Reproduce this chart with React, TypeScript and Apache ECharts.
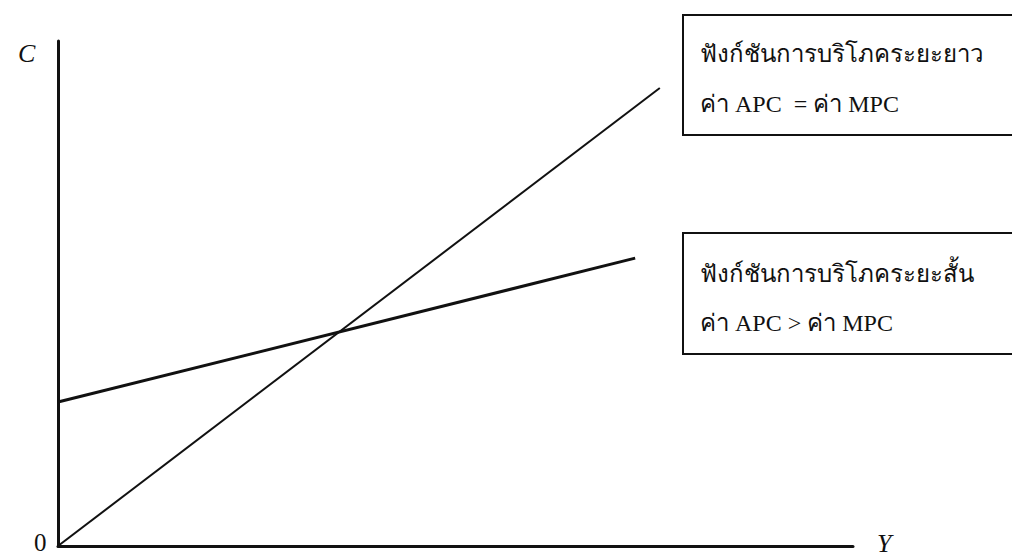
import React, { useEffect, useRef } from "react";
import * as echarts from "echarts";

const longRun: [number, number][] = [
  [0, 0],
  [75.7, 90.7],
];
const shortRun: [number, number][] = [
  [0, 28.5],
  [72.6, 57.0],
];
const longRunText = ["ฟังก์ชันการบริโภคระยะยาว", "ค่า APC  = ค่า MPC"];
const shortRunText = ["ฟังก์ชันการบริโภคระยะสั้น", "ค่า APC > ค่า MPC"];
const axisNames = { x: "Y", y: "C", origin: "0" };

const FONT = "'Liberation Serif', 'Times New Roman', serif";

export default function App() {
  const ref = useRef<HTMLDivElement>(null);
  useEffect(() => {
    if (!ref.current) return;
    const chart = echarts.init(ref.current, null, { renderer: "svg" });
    const boxText = (t: string, x: number, y: number) => ({
      type: "text",
      x,
      y,
      style: { text: t, font: `24px ${FONT}`, fill: "#111111", textVerticalAlign: "bottom" },
    });
    chart.setOption({
      animation: false,
      backgroundColor: "#ffffff",
      grid: { left: 58, right: 159, top: 41, bottom: 11 },
      xAxis: {
        type: "value",
        min: 0,
        max: 100,
        axisLine: { show: true, onZero: false, lineStyle: { color: "#111111", width: 3 } },
        axisTick: { show: false },
        axisLabel: { show: false },
        splitLine: { show: false },
      },
      yAxis: {
        type: "value",
        min: 0,
        max: 100,
        axisLine: { show: true, onZero: false, lineStyle: { color: "#111111", width: 3 } },
        axisTick: { show: false },
        axisLabel: { show: false },
        splitLine: { show: false },
      },
      series: [
        {
          type: "line",
          data: longRun,
          symbol: "none",
          lineStyle: { color: "#111111", width: 2 },
        },
        {
          type: "line",
          data: shortRun,
          symbol: "none",
          lineStyle: { color: "#111111", width: 3 },
        },
      ],
      graphic: [
        {
          type: "text",
          left: 18,
          top: 40,
          style: { text: axisNames.y, font: `italic 26px ${FONT}`, fill: "#111111" },
        },
        {
          type: "text",
          left: 877,
          top: 530,
          style: { text: axisNames.x, font: `italic 26px ${FONT}`, fill: "#111111" },
        },
        {
          type: "text",
          left: 34,
          top: 530,
          style: { text: axisNames.origin, font: `25px ${FONT}`, fill: "#111111" },
        },
        {
          type: "rect",
          shape: { x: 683, y: 15, width: 340, height: 120 },
          style: { fill: "#ffffff", stroke: "#111111", lineWidth: 2 },
        },
        {
          type: "rect",
          shape: { x: 683, y: 233, width: 340, height: 121 },
          style: { fill: "#ffffff", stroke: "#111111", lineWidth: 2 },
        },
        boxText(longRunText[0], 700, 66),
        boxText(longRunText[1], 700, 116),
        boxText(shortRunText[0], 700, 286),
        boxText(shortRunText[1], 700, 335),
      ],
    });
    return () => chart.dispose();
  }, []);
  return (
    <div
      ref={ref}
      style={{ position: "fixed", left: 0, top: 0, width: 1012, height: 557 }}
    />
  );
}
